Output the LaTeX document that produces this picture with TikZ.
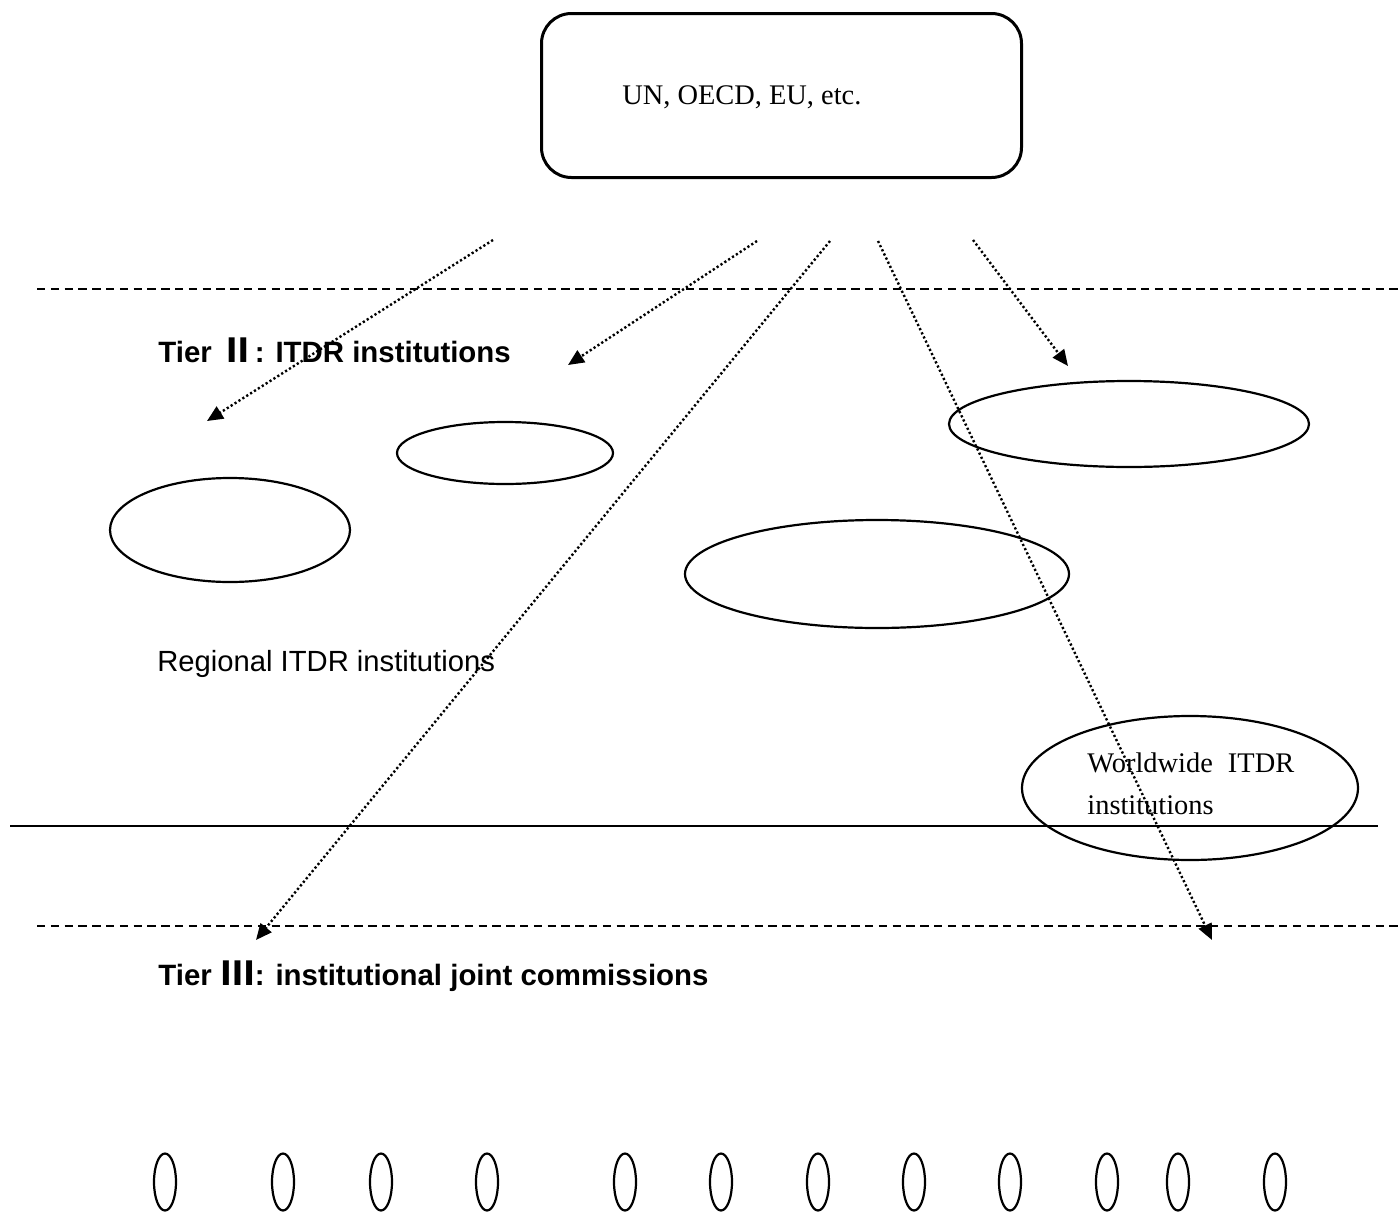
\documentclass[tikz,border=0pt]{standalone}
\usepackage{fontspec}
\setmainfont{Liberation Serif}
\setsansfont{Liberation Sans}
\newfontfamily\cjkfont[Scale=1.12]{Noto Sans CJK SC}
\usetikzlibrary{arrows.meta,shapes.geometric}

\begin{document}
\begin{tikzpicture}[x = .5pt, y = -.5pt,
  oval/.style = {draw, ellipse, line width = 1.1pt, inner sep = 0pt},
  pointer/.style = {-{Triangle[length = 8pt, width = 7pt]}, line width = 1.2pt, dash pattern = on 1.1pt off 1.2pt},
  tier/.style = {anchor = west, inner sep = 0pt, font = \sffamily\bfseries\fontsize{14.7}{17}\selectfont},
  plain/.style = {inner sep = 0pt, font = \fontsize{14.2}{21}\selectfont}]
\useasboundingbox (0, 0) rectangle (1399, 1221);

% top organisations
\node[draw, rounded corners = 15pt, line width = 1.5pt, minimum width = 240pt, minimum height = 82pt] (Top) at (781.5, 95.5) {};
\node[plain, anchor = west] (TopText) at (622, 97) {UN, OECD, EU, etc.};

% tier lines
\draw[line width = .8pt, dash pattern = on 4.2pt off 2.7pt] (37, 289) -- (1399, 289);
\draw[line width = 1.4pt] (10, 826) -- (1378, 826);
\draw[line width = .8pt, dash pattern = on 4.2pt off 2.7pt] (37, 926) -- (1399, 926);

\node[tier] (TierII) at (158, 350) {Tier\hspace{1pt} {\cjkfont Ⅱ}: ITDR institutions};
\node[tier] (TierIII) at (158, 976) {Tier\hspace{1pt} {\cjkfont Ⅲ}: institutional joint commissions};
\node[plain, anchor = west, font = \sffamily\fontsize{14.6}{17}\selectfont] (Regional) at (157, 664) {Regional ITDR institutions};

% institutions
\node[oval, minimum width = 120pt, minimum height = 52pt] (R1) at (230, 530) {};
\node[oval, minimum width = 108pt, minimum height = 31pt] (R2) at (505, 453) {};
\node[oval, minimum width = 180pt, minimum height = 43pt] (R3) at (1129, 424) {};
\node[oval, minimum width = 192pt, minimum height = 54pt] (R4) at (877, 574) {};
\node[oval, minimum width = 168pt, minimum height = 72pt] (W) at (1190, 788) {};
\node[plain, anchor = north west, align = left] (WText) at (1087, 752) {Worldwide\hspace{4pt} ITDR\\ institutions};

% joint commissions
\foreach \x [count = \i] in {165, 283, 381, 487, 625, 721, 818, 914, 1010, 1107, 1178, 1275}
  \node[oval, minimum width = 11pt, minimum height = 28.5pt] (C\i) at (\x, 1182) {};

% arrows
\coordinate (s1) at (493, 240);
\coordinate (s2) at (757, 241);
\coordinate (s3) at (830, 241);
\coordinate (s4) at (878, 241);
\coordinate (s5) at (973, 240);
\coordinate (t1) at (207, 421);
\coordinate (t2) at (568, 365);
\coordinate (t3) at (256, 940);
\coordinate (t4) at (1212, 940);
\coordinate (t5) at (1068, 366);

\draw[pointer] (s1) -- (t1);
\draw[pointer] (s2) -- (t2);
\draw[pointer] (s3) -- (t3);
\draw[pointer] (s4) -- (t4);
\draw[pointer] (s5) -- (t5);

\end{tikzpicture}
\end{document}
